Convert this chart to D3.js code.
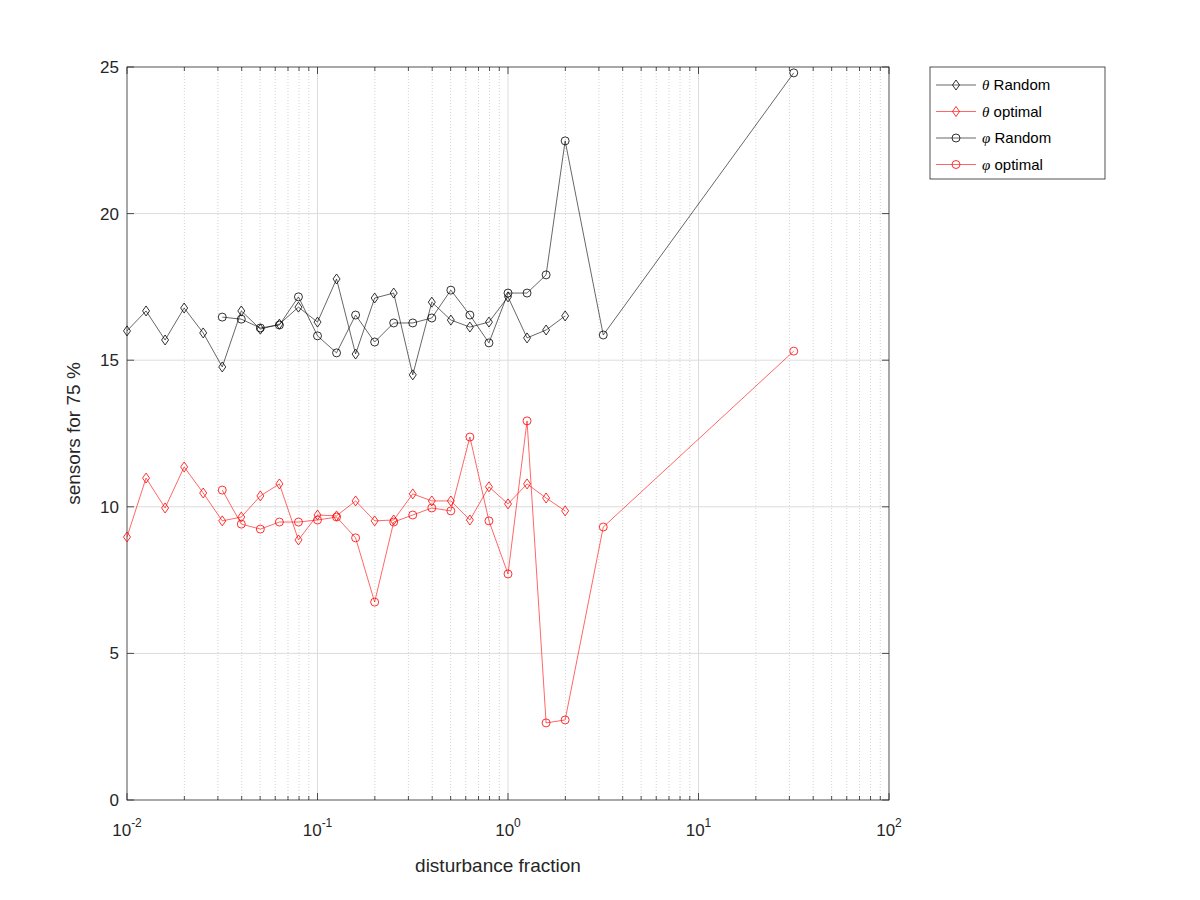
<!DOCTYPE html>
<html><head><meta charset="utf-8">
<script src="https://cdn.jsdelivr.net/npm/d3@7"></script>
<style>body{margin:0;background:#fff}svg{font-family:Arial,"Liberation Sans",sans-serif}</style>
</head><body><svg id="c" width="1200" height="900"></svg>
<script>
const expA = d3.range(-20, 4);
const expB = [-15,-14,-13,-12,-11,-10,-9,-8,-7,-6,-5,-4,-3,-2,-1,0,1,2,3,5,15];
const thetaRandom = [16.0,16.68,15.69,16.78,15.93,14.77,16.68,16.06,16.23,16.81,16.30,17.77,15.21,17.12,17.29,14.50,16.98,16.37,16.13,16.30,17.16,15.76,16.03,16.51];
const thetaOptimal = [8.97,10.98,9.96,11.36,10.47,9.52,9.65,10.37,10.78,8.87,9.72,9.69,10.20,9.52,9.55,10.44,10.20,10.20,9.55,10.68,10.10,10.78,10.30,9.86];
const phiRandom = [16.47,16.40,16.10,16.20,17.16,15.83,15.25,16.54,15.62,16.27,16.27,16.44,17.39,16.54,15.59,17.29,17.29,17.91,22.48,15.86,24.8];
const phiOptimal = [10.57,9.41,9.24,9.48,9.48,9.55,9.65,8.94,6.75,9.48,9.72,9.96,9.86,12.38,9.52,7.71,12.93,2.63,2.73,9.31,15.31];
const yTicks = [0,5,10,15,20,25];
const xTicks = [0.01,0.1,1,10,100];

const svg = d3.select("#c");
const L=127,R=889,T=67,B=800;
const x = d3.scaleLog().domain([0.01,100]).range([L,R]);
const y = d3.scaleLinear().domain([0,25]).range([B,T]);
const g = svg.append("g");
const minors=[];
[0.01,0.1,1,10].forEach(d=>{for(let i=2;i<=9;i++)minors.push(d*i);});
g.selectAll(".mn").data(minors).enter().append("line")
 .attr("x1",d=>x(d)).attr("x2",d=>x(d)).attr("y1",T).attr("y2",B)
 .attr("stroke","#c8c8c8").attr("stroke-width",0.8).attr("stroke-dasharray","1,2");
g.selectAll(".mx").data(xTicks.slice(1,-1)).enter().append("line")
 .attr("x1",d=>x(d)).attr("x2",d=>x(d)).attr("y1",T).attr("y2",B).attr("stroke","#dcdcdc");
g.selectAll(".my").data(yTicks.slice(1,-1)).enter().append("line")
 .attr("y1",d=>y(d)).attr("y2",d=>y(d)).attr("x1",L).attr("x2",R).attr("stroke","#dcdcdc");
svg.append("rect").attr("x",L).attr("y",T).attr("width",R-L).attr("height",B-T).attr("fill","none").attr("stroke","#262626").attr("stroke-width",0.8);
const tk=svg.append("g").attr("stroke","#262626").attr("stroke-width",0.8);
xTicks.forEach(d=>{tk.append("line").attr("x1",x(d)).attr("x2",x(d)).attr("y1",B).attr("y2",B-7);tk.append("line").attr("x1",x(d)).attr("x2",x(d)).attr("y1",T).attr("y2",T+7);});
minors.forEach(d=>{tk.append("line").attr("x1",x(d)).attr("x2",x(d)).attr("y1",B).attr("y2",B-4);tk.append("line").attr("x1",x(d)).attr("x2",x(d)).attr("y1",T).attr("y2",T+4);});
yTicks.forEach(d=>{tk.append("line").attr("y1",y(d)).attr("y2",y(d)).attr("x1",L).attr("x2",L+7);tk.append("line").attr("y1",y(d)).attr("y2",y(d)).attr("x1",R).attr("x2",R-7);});
yTicks.forEach(d=>svg.append("text").attr("x",L-8).attr("y",y(d)+6).attr("text-anchor","end").attr("font-size",17).attr("fill","#262626").text(d));
xTicks.forEach(d=>{const t=svg.append("text").attr("x",x(d)).attr("y",B+36).attr("text-anchor","middle").attr("font-size",17).attr("fill","#262626");
 t.append("tspan").text("10");t.append("tspan").attr("dy",-9).attr("font-size",12).text(Math.round(Math.log10(d)));});
svg.append("text").attr("x",(L+R)/2-10).attr("y",B+72).attr("text-anchor","middle").attr("font-size",19).attr("fill","#262626").text("disturbance fraction");
svg.append("text").attr("transform",`translate(${L-47},${(T+B)/2}) rotate(-90)`).attr("text-anchor","middle").attr("font-size",19).attr("fill","#262626").text("sensors for 75 %");

const diamond=(s,cx,cy,col)=>s.append("path").attr("d",`M${cx},${cy-5}L${cx+3.5},${cy}L${cx},${cy+5}L${cx-3.5},${cy}Z`).attr("fill","none").attr("stroke",col).attr("stroke-width",0.8);
const circ=(s,cx,cy,col)=>s.append("circle").attr("cx",cx).attr("cy",cy).attr("r",4).attr("fill","none").attr("stroke",col).attr("stroke-width",0.8);
function series(ks,vals,col,mk){
 const pts=ks.map((k,i)=>[x(Math.pow(10,k/10)),y(vals[i])]);
 svg.append("path").attr("d",d3.line()(pts)).attr("fill","none").attr("stroke",col).attr("stroke-width",0.6);
 pts.forEach(p=>mk(svg,p[0],p[1],col));
}
series(expA,thetaRandom,"#000",diamond);
series(expA,thetaOptimal,"#f00",diamond);
series(expB,phiRandom,"#000",circ);
series(expB,phiOptimal,"#f00",circ);
const lg=svg.append("g");
lg.append("rect").attr("x",930).attr("y",67).attr("width",175).attr("height",112).attr("fill","#fff").attr("stroke","#262626").attr("stroke-width",0.8);
const items=[["θ"," Random","#000",diamond],["θ"," optimal","#f00",diamond],["φ"," Random","#000",circ],["φ"," optimal","#f00",circ]];
items.forEach((it,i)=>{const yy=85+i*26.5;
 lg.append("line").attr("x1",936).attr("x2",976).attr("y1",yy).attr("y2",yy).attr("stroke",it[2]).attr("stroke-width",0.6);
 it[3](lg,956,yy,it[2]);
 const t=lg.append("text").attr("x",982).attr("y",yy+5).attr("font-size",15).attr("fill","#000");
 t.append("tspan").attr("font-style","italic").attr("font-family","Liberation Serif, serif").text(it[0]);
 t.append("tspan").text(it[1]);});
</script></body></html>
